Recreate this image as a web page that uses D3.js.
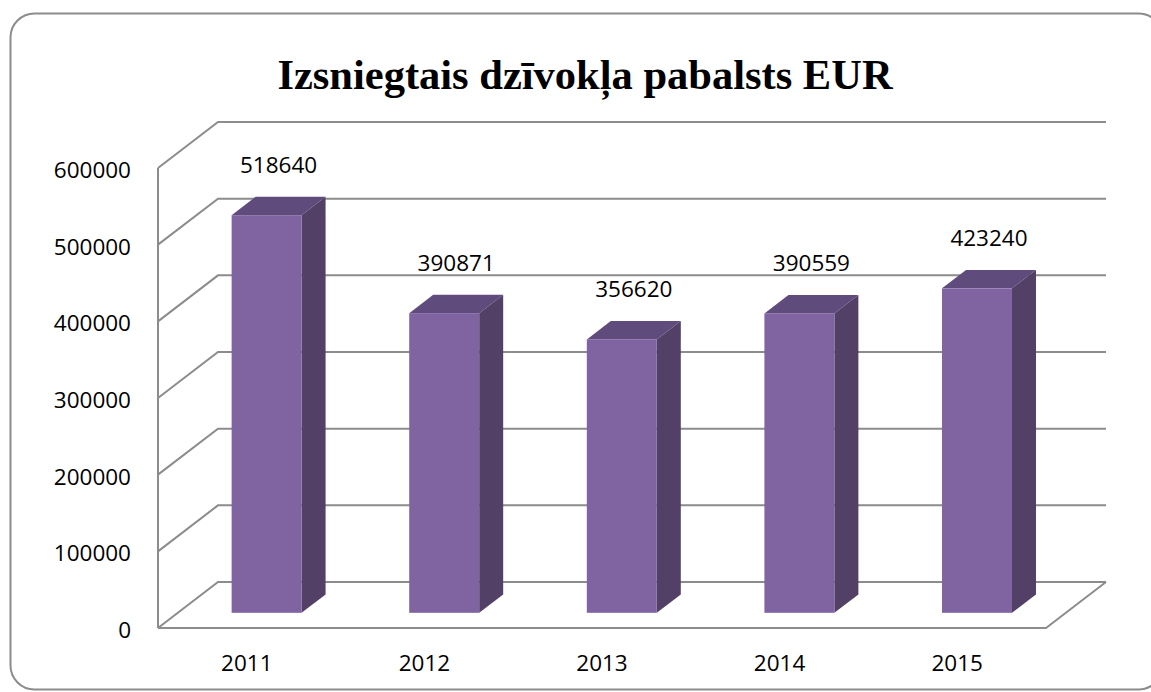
<!DOCTYPE html>
<html>
<head>
<meta charset="utf-8">
<script src="https://cdn.jsdelivr.net/npm/d3@7"></script>
<style>
  body { margin: 0; background: #fff; }
</style>
</head>
<body>
<svg id="chart" width="1151" height="692"></svg>
<script>
const years = ["2011", "2012", "2013", "2014", "2015"];
const values = [518640, 390871, 356620, 390559, 423240];
const ticks = [0, 100000, 200000, 300000, 400000, 500000, 600000];
const title = "Izsniegtais dzīvokļa pabalsts EUR";

const svg = d3.select("#chart");

// chart frame
svg.append("rect")
    .attr("x", 10.5).attr("y", 13.5)
    .attr("width", 1152).attr("height", 676)
    .attr("rx", 24)
    .attr("fill", "#fff")
    .attr("stroke", "#8c8c8c")
    .attr("stroke-width", 2);

svg.append("text")
    .attr("x", 585).attr("y", 89)
    .attr("text-anchor", "middle")
    .attr("font-family", "Liberation Serif, serif")
    .attr("font-weight", "bold")
    .attr("font-size", 42.5)
    .text(title);

// front plane scales, depth vector goes to the back wall
const depth = { dx: 60, dy: -46 };
const x = d3.scaleBand().domain(years).range([158, 1046]).padding(0);
const y = d3.scaleLinear().domain([0, 600000]).range([628, 168]);

const grid = svg.append("g")
    .attr("fill", "none")
    .attr("stroke", "#8c8c8c")
    .attr("stroke-width", 2);

// left wall vertical edge
grid.append("line")
    .attr("x1", x.range()[0]).attr("x2", x.range()[0])
    .attr("y1", y(0)).attr("y2", y(600000));

// gridlines: diagonal on left wall + horizontal on back wall
grid.selectAll("path.g")
    .data(ticks)
    .join("path")
    .attr("class", "g")
    .attr("d", t => {
        const x0 = x.range()[0], x1 = x.range()[1];
        return `M${x0},${y(t)}L${x0 + depth.dx},${y(t) + depth.dy}L${x1 + depth.dx},${y(t) + depth.dy}`;
    });

// floor front and right edges
grid.append("path")
    .attr("d", `M${x.range()[0]},${y(0)}L${x.range()[1]},${y(0)}L${x.range()[1] + depth.dx},${y(0) + depth.dy}`);

const font = "Open Sans, Noto Sans, sans-serif";

// y labels
svg.append("g")
    .attr("font-family", font)
    .attr("font-size", 22.5)
    .attr("text-anchor", "end")
    .selectAll("text")
    .data(ticks)
    .join("text")
    .attr("x", 131)
    .attr("y", t => y(t) + 10)
    .text(t => t);

// x labels
svg.append("g")
    .attr("font-family", font)
    .attr("font-size", 22.5)
    .attr("text-anchor", "middle")
    .selectAll("text")
    .data(years)
    .join("text")
    .attr("x", d => x(d) + x.bandwidth() / 2)
    .attr("y", 671)
    .text(d => d);

// 3d bars
const f1 = 0.33, f2 = 0.73;
const barW = x.bandwidth() * 0.394;
const data = years.map((yr, i) => ({ year: yr, value: values[i] }));

const bars = svg.append("g").selectAll("g")
    .data(data)
    .join("g");

bars.each(function (d) {
    const g = d3.select(this);
    const cx = x(d.year) + x.bandwidth() / 2;
    const xl = cx - barW / 2 + depth.dx * f1;
    const xr = xl + barW;
    const yt = y(d.value) + depth.dy * f1;
    const yb = y(0) + depth.dy * f1;
    const ox = depth.dx * (f2 - f1), oy = depth.dy * (f2 - f1);

    g.append("path")
        .attr("fill", "#604c7c")
        .attr("d", `M${xl},${yt}L${xr},${yt}L${xr + ox},${yt + oy}L${xl + ox},${yt + oy}Z`);
    g.append("path")
        .attr("fill", "#524066")
        .attr("d", `M${xr},${yt}L${xr + ox},${yt + oy}L${xr + ox},${yb + oy}L${xr},${yb}Z`);
    g.append("rect")
        .attr("fill", "#8064a2")
        .attr("x", xl).attr("y", yt)
        .attr("width", barW).attr("height", yb - yt);

    g.append("text")
        .attr("x", (xl + xr) / 2 + ox / 2)
        .attr("y", yt + oy - 24)
        .attr("text-anchor", "middle")
        .attr("font-family", font)
        .attr("font-size", 22.5)
        .text(d.value);
});
</script>
</body>
</html>
